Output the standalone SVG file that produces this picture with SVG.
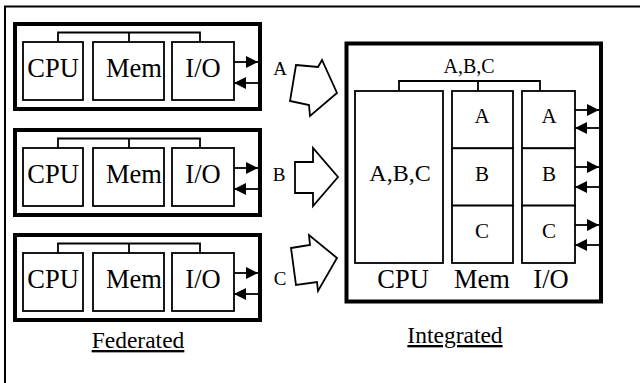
<svg xmlns="http://www.w3.org/2000/svg" width="640" height="383" viewBox="0 0 640 383" font-family="'Liberation Serif', 'Times New Roman', 'DejaVu Serif', serif">
<style>
text{font-family:'Liberation Serif','Times New Roman','DejaVu Serif',serif;fill:#000}
.frame{fill:none;stroke:#000;stroke-width:4}
.box{fill:#fff;stroke:#000;stroke-width:1.8}
.line{fill:none;stroke:#000;stroke-width:1.8}
.big{font-size:26.5px;text-anchor:middle}
.lbl{font-size:19px;text-anchor:middle}
.cell{font-size:21px;text-anchor:middle}
.title{font-size:23.5px;text-anchor:middle;text-decoration:underline}
.blk{fill:#fff;stroke:#000;stroke-width:1.8;stroke-linejoin:miter}
</style>
<defs>
<marker id="ah" viewBox="0 0 12 12" refX="12" refY="6" markerWidth="12" markerHeight="12" markerUnits="userSpaceOnUse" orient="auto">
<path d="M0,0 L12,6 L0,12 z" fill="#000"/>
</marker>
</defs>
<g id="border">
<line x1="4" y1="6.5" x2="640" y2="6.5" stroke="#000" stroke-width="2"/>
<line x1="5" y1="6" x2="5" y2="383" stroke="#000" stroke-width="2"/>
</g>
<g id="fedA">
<rect class="frame" x="15" y="24" width="245" height="85"/>
<rect class="box" x="23" y="42" width="60" height="58"/>
<rect class="box" x="93" y="42" width="71" height="58"/>
<rect class="box" x="172" y="42" width="62" height="58"/>
<text class="big" x="53" y="77">CPU</text>
<text class="big" x="134" y="77">Mem</text>
<text class="big" x="203" y="77">I/O</text>
</g>
<g id="fedB">
<rect class="frame" x="15" y="130" width="245" height="85"/>
<rect class="box" x="23" y="148" width="60" height="58"/>
<rect class="box" x="93" y="148" width="71" height="58"/>
<rect class="box" x="172" y="148" width="62" height="58"/>
<text class="big" x="53" y="183">CPU</text>
<text class="big" x="134" y="183">Mem</text>
<text class="big" x="203" y="183">I/O</text>
</g>
<g id="fedC">
<rect class="frame" x="15" y="235" width="245" height="85"/>
<rect class="box" x="23" y="253" width="60" height="58"/>
<rect class="box" x="93" y="253" width="71" height="58"/>
<rect class="box" x="172" y="253" width="62" height="58"/>
<text class="big" x="53" y="288">CPU</text>
<text class="big" x="134" y="288">Mem</text>
<text class="big" x="203" y="288">I/O</text>
</g>
<g id="integrated">
<rect class="frame" x="346.5" y="43.5" width="254.5" height="258"/>
<rect class="box" x="355" y="91" width="88" height="172"/>
<rect class="box" x="452" y="91" width="61" height="57.3"/>
<rect class="box" x="452" y="148.3" width="61" height="57.3"/>
<rect class="box" x="452" y="205.6" width="61" height="57.4"/>
<rect class="box" x="522" y="91" width="53" height="57.3"/>
<rect class="box" x="522" y="148.3" width="53" height="57.3"/>
<rect class="box" x="522" y="205.6" width="53" height="57.4"/>
<text class="lbl" x="469" y="73" style="font-size:20px">A,B,C</text>
<text class="big" x="400" y="181" style="font-size:24px">A,B,C</text>
<text class="cell" x="482" y="123">A</text>
<text class="cell" x="482" y="181">B</text>
<text class="cell" x="482" y="238">C</text>
<text class="cell" x="549" y="123">A</text>
<text class="cell" x="549" y="181">B</text>
<text class="cell" x="549" y="238">C</text>
<text class="big" x="403" y="288">CPU</text>
<text class="big" x="482" y="288">Mem</text>
<text class="big" x="551" y="288">I/O</text>
</g>
<g id="labels">
<text class="lbl" x="280" y="75">A</text>
<text class="lbl" x="279" y="181">B</text>
<text class="lbl" x="280" y="285">C</text>
<text class="title" x="138" y="348">Federated</text>
<text class="title" x="455" y="343">Integrated</text>
</g>
<g id="blockArrows">
<polygon class="blk" points="296,65 318,67 322,60 337,93 310,116 309,105 290,101"/>
<polygon class="blk" points="295,162 313,162 313,148 338,177 313,206 313,193 295,193"/>
<polygon class="blk" points="291,248 310,245 309,235 337,258 318,291 317,282 296,285"/>
</g>
<g id="connectors">
<path class="line" d="M58,42 V32.5 H200 V42 M129,32.5 V42"/>
<path class="line" d="M58,148 V138.5 H200 V148 M129,138.5 V148"/>
<path class="line" d="M58,253 V243.5 H200 V253 M129,243.5 V253"/>
<line class="line" x1="234" y1="62" x2="258" y2="62" marker-end="url(#ah)"/>
<line class="line" x1="258" y1="83" x2="234" y2="83" marker-end="url(#ah)"/>
<line class="line" x1="234" y1="168" x2="258" y2="168" marker-end="url(#ah)"/>
<line class="line" x1="258" y1="189" x2="234" y2="189" marker-end="url(#ah)"/>
<line class="line" x1="234" y1="273" x2="258" y2="273" marker-end="url(#ah)"/>
<line class="line" x1="258" y1="294" x2="234" y2="294" marker-end="url(#ah)"/>
<path class="line" d="M399,91 V81 H540 V91 M478,81 V91"/>
<line class="line" x1="575" y1="110" x2="599" y2="110" marker-end="url(#ah)"/>
<line class="line" x1="599" y1="128" x2="575" y2="128" marker-end="url(#ah)"/>
<line class="line" x1="575" y1="167" x2="599" y2="167" marker-end="url(#ah)"/>
<line class="line" x1="599" y1="187" x2="575" y2="187" marker-end="url(#ah)"/>
<line class="line" x1="575" y1="225" x2="599" y2="225" marker-end="url(#ah)"/>
<line class="line" x1="599" y1="245" x2="575" y2="245" marker-end="url(#ah)"/>
</g>
</svg>
